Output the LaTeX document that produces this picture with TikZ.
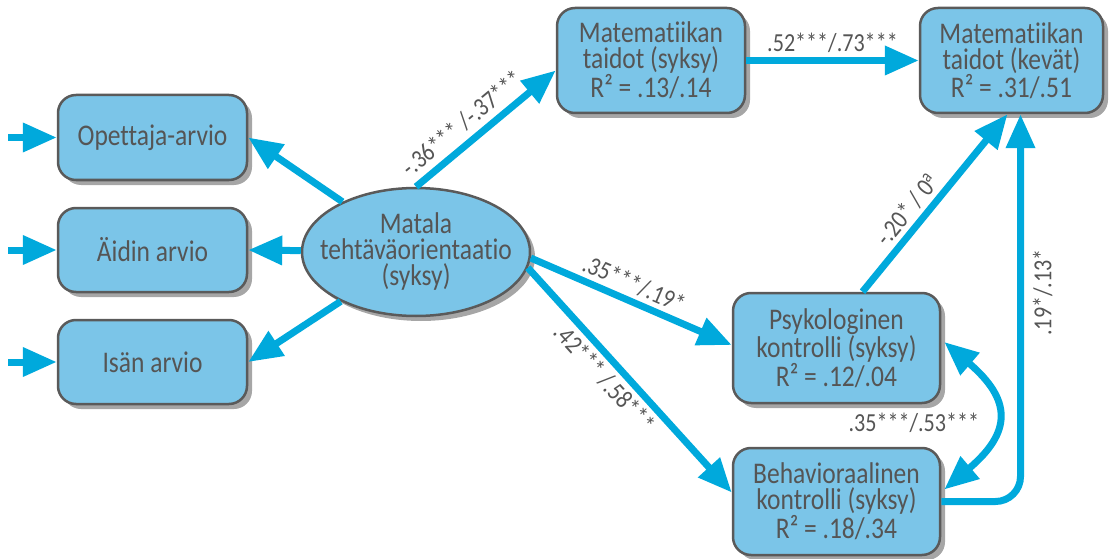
\documentclass[tikz,border=0pt]{standalone}
\usepackage{fontspec}
\setmainfont{Carlito}[FakeStretch=0.85, Ligatures=NoCommon]
\usetikzlibrary{arrows.meta,shadows,calc,shapes.geometric}
\definecolor{boxfill}{HTML}{7BC5E8}
\definecolor{arrowc}{HTML}{00A9DC}
\definecolor{edgec}{HTML}{5A5A5A}
\definecolor{txt}{HTML}{555555}
\begin{document}
\begin{tikzpicture}[x=1pt,y=-1pt,
  >={Triangle[length=34pt,width=28pt]},
  box/.style={draw=edgec, line width=2.5pt, fill=boxfill, rounded corners=18pt,
    text=txt, align=center, font=\fontsize{30}{26}\selectfont, inner sep=0pt,
    drop shadow={shadow xshift=5pt, shadow yshift=-5pt, opacity=0.35, fill=black}},
  oval/.style={ellipse, draw=edgec, line width=2.5pt, fill=boxfill,
    text=txt, align=center, font=\fontsize{30}{26}\selectfont,
    inner xsep=-22pt, inner ysep=-4pt,
    drop shadow={shadow xshift=5pt, shadow yshift=-5pt, opacity=0.35, fill=black}},
  arr/.style={draw=arrowc, line width=7pt, ->},
  lab/.style={text=txt, font=\fontsize{26}{26}\selectfont, inner sep=2pt}]
\useasboundingbox (0,0) rectangle (1114,559);

% nodes
\node[box, minimum width=189pt, minimum height=85pt] (opet) at (152.5,137.5) {Opettaja-arvio};
\node[box, minimum width=189pt, minimum height=84pt] (aidin) at (152.5,250) {Äidin arvio};
\node[box, minimum width=189pt, minimum height=84pt] (isan) at (152.5,362) {Isän arvio};
\node[oval, minimum width=228pt, minimum height=128pt] (mat) at (416,252) {Matala\\tehtäväorientaatio\\(syksy)};
\node[box, minimum width=188pt, minimum height=105pt] (ms) at (651,60.5) {Matematiikan\\taidot (syksy)\\R² = .13/.14};
\node[box, minimum width=183pt, minimum height=105pt] (mk) at (1011.5,60.5) {Matematiikan\\taidot (kevät)\\R² = .31/.51};
\node[box, minimum width=207pt, minimum height=110pt] (psyk) at (836.5,348) {Psykologinen\\kontrolli (syksy)\\R² = .12/.04};
\node[box, minimum width=207pt, minimum height=107pt] (beh) at (836.5,501.5) {Behavioraalinen\\kontrolli (syksy)\\R² = .18/.34};

% input arrows
\coordinate (inA) at (8,137.5);
\coordinate (inB) at (8,250);
\coordinate (inC) at (8,362);
\draw[arr] (inA) -- (opet.west);
\draw[arr] (inB) -- (aidin.west);
\draw[arr] (inC) -- (isan.west);

% from ellipse
\draw[arr] (mat) -- (opet.east);
\draw[arr] (mat) -- (aidin.east);
\draw[arr] (mat) -- (isan.east);
\draw[arr] (mat.north) -- node[lab, sloped, above=4pt, pos=0.42] {-.36*** /-.37***} ($(ms.west)+(0,10)$);
\draw[arr] (mat.-3) -- node[lab, sloped, above=2pt, pos=0.48] {.35***/.19*} ($(psyk.west)+(0,-3)$);
\draw[arr] (mat.-8) -- node[lab, sloped, below=2pt, pos=0.44] {.42*** /.58***} ($(beh.west)+(0,-9)$);

% math
\draw[arr] (ms.east) -- node[lab, above=2pt] {.52***/.73***} (mk.west);
\draw[arr] ($(psyk.north)+(26,0)$) -- node[lab, sloped, above=2pt, pos=0.4] {-.20* / 0\textsuperscript{a}} ($(mk.south)+(-4,0)$);
\coordinate (bc) at ($(beh.east -| mk.south)+(9,0)$);
\draw[arr, rounded corners=25pt] (beh.east) -- (bc) -- node[lab, rotate=90, anchor=north, inner sep=9pt, pos=0.54] {.19*/.13*} ($(mk.south)+(9,0)$);

% covariance
\draw[draw=arrowc, line width=7pt, <->] ($(psyk.east)+(3,-6)$) .. controls (1012,400) and (1012,432) .. node[lab, left=10pt, pos=0.55] {.35***/.53***} ($(beh.east)+(3,-12)$);
\end{tikzpicture}
\end{document}
